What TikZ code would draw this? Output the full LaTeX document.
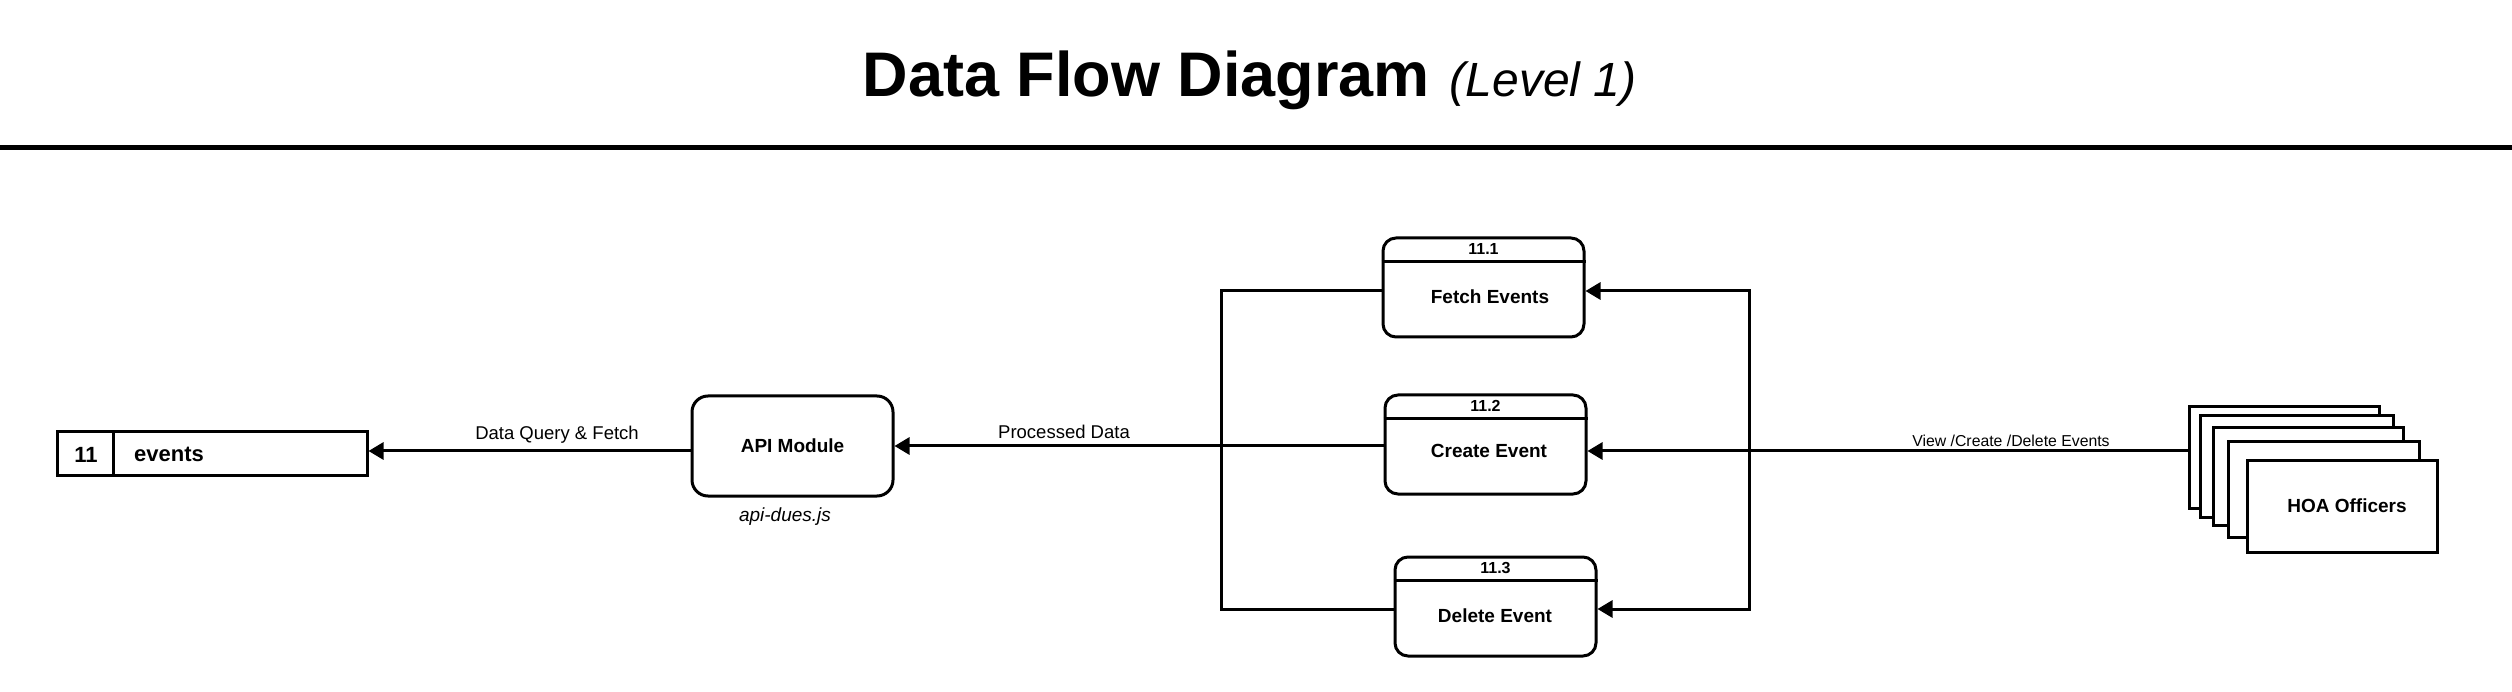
\documentclass[tikz,border=0pt]{standalone}
\usepackage{fontspec}
\setmainfont{Liberation Sans}
\usetikzlibrary{arrows.meta}
\begin{document}
\begin{tikzpicture}[x=1pt,y=-1pt,
  lw/.style={line width=3pt},
  tip/.tip={Triangle[length=15pt,width=17pt]},
  flow/.style={lw,-tip},
  proc/.style={draw,line width=3pt,rounded corners=13pt,minimum width=201pt,minimum height=99pt,inner sep=0pt,fill=white},
  ptext/.style={font=\fontsize{19}{22}\selectfont\bfseries,inner sep=0pt},
  hdr/.style={font=\fontsize{16}{19}\selectfont\bfseries,inner sep=0pt},
  lbl/.style={font=\fontsize{18.5}{22}\selectfont,inner sep=0pt},
  ent/.style={draw,line width=3pt,fill=white,inner sep=0pt},
]
\useasboundingbox (0,0) rectangle (2512,692);
% title
\node[anchor=base,inner sep=0pt] (title) at (1249.5,97)
  {{\fontsize{63}{70}\selectfont\bfseries Data Flow Diagram}\hspace{20pt}{\fontsize{48}{54}\selectfont\itshape (Level 1)}};
\draw[line width=5pt] (0,147.5) -- (2512,147.5);

% data store
\node[ent,minimum width=310pt,minimum height=43pt] (store) at (212,453.5) {};
\draw[lw] ([xshift=58pt]store.north west) -- ([xshift=58pt]store.south west);
\node[inner sep=0pt,font=\fontsize{22}{26}\selectfont\bfseries] (storeid) at (86,455) {11};
\node[inner sep=0pt,anchor=west,font=\fontsize{22}{26}\selectfont\bfseries] (storename) at (134,454) {events};

% API module
\node[proc,minimum height=100pt,rounded corners=16pt,font=\fontsize{19}{22}\selectfont\bfseries] (api) at (792.5,446) {API Module};
\node[inner sep=0pt,font=\fontsize{19}{22}\selectfont\itshape] (apifile) at (785,517) {api-dues.js};

% processes
\node[proc] (fetch) at (1483.5,287.5) {};
\draw[lw] ([yshift=-25pt]fetch.north west) -- ([yshift=-25pt]fetch.north east);
\node[hdr] (fetchid) at ([yshift=-12.5pt]fetch.north) {11.1};
\node[ptext] (fetcht) at (1490,297) {Fetch Events};

\node[proc] (create) at (1485.5,444.5) {};
\draw[lw] ([yshift=-25pt]create.north west) -- ([yshift=-25pt]create.north east);
\node[hdr] (createid) at ([yshift=-12.5pt]create.north) {11.2};
\node[ptext] (createt) at (1489,451) {Create Event};

\node[proc] (delete) at (1495.5,606.5) {};
\draw[lw] ([yshift=-25pt]delete.north west) -- ([yshift=-25pt]delete.north east);
\node[hdr] (deleteid) at ([yshift=-12.5pt]delete.north) {11.3};
\node[ptext] (deletet) at (1495,616) {Delete Event};

% HOA officers stack
\node[ent,minimum width=190pt,minimum height=101pt] (hoa1) at (2284,457.5) {};
\node[ent,minimum width=193pt,minimum height=101pt] (hoa2) at (2296.5,466.5) {};
\node[ent,minimum width=190pt,minimum height=97pt] (hoa3) at (2308,476.5) {};
\node[ent,minimum width=191pt,minimum height=95pt] (hoa4) at (2323.5,489.5) {};
\node[ent,minimum width=190pt,minimum height=92pt,font=\fontsize{19}{22}\selectfont\bfseries] (hoa) at (2342,506) {\hspace{10pt}HOA Officers};

% connectors
\draw[flow] (api.west |- 0,451) -- (store.east |- 0,451);
\node[lbl] (l1) at (557,435) {Data Query \& Fetch};

\draw[flow] (create.west |- api.east) -- (api.east);
\node[lbl] (l2) at (1064,432) {Processed Data};

\draw[lw] (fetch.west |- 0,291) -- (1221,291) -- (1221,609) -- (delete.west |- 0,609);

\draw[lw,tip-tip] (fetch.east |- 0,291) -- (1749,291) -- (1749,609) -- (delete.east |- 0,609);

\draw[flow] (hoa1.west |- 0,451) -- (create.east |- 0,451);
\node[inner sep=0pt,font=\fontsize{15.8}{19}\selectfont] (l3) at (2011,441) {View /Create /Delete Events};
\end{tikzpicture}
\end{document}
